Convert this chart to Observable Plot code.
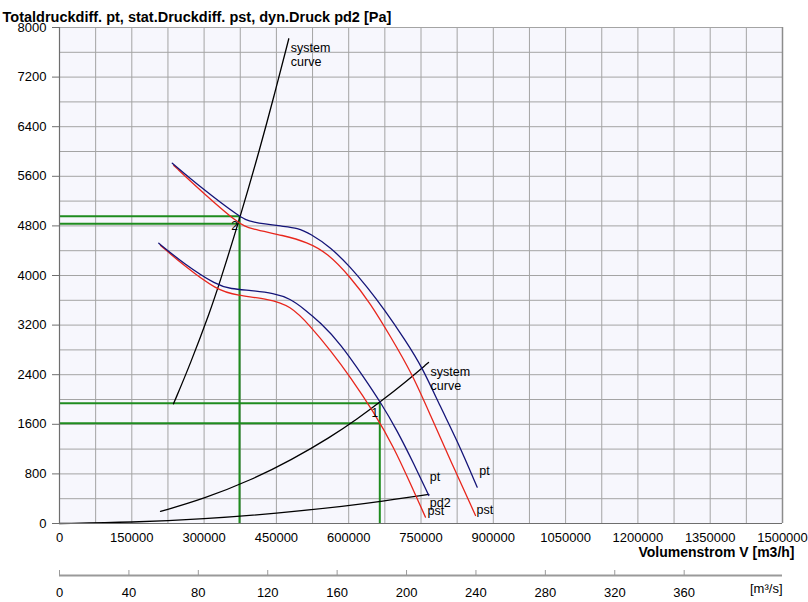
<!DOCTYPE html>
<html><head><meta charset="utf-8">
<script src="https://cdn.jsdelivr.net/npm/d3@7"></script>
<script src="https://cdn.jsdelivr.net/npm/@observablehq/plot@0.6"></script>
<style>
body{margin:0;background:#fff;font-family:"Liberation Sans",Arial,sans-serif}
</style></head>
<body><div id="chart"></div>
<script>
// ---- tick labels ----
const yTicks = [0, 800, 1600, 2400, 3200, 4000, 4800, 5600, 6400, 7200, 8000];
const xTicks = [0, 150000, 300000, 450000, 600000, 750000, 900000, 1050000, 1200000, 1350000, 1500000];
const m3sTicks = [0, 40, 80, 120, 160, 200, 240, 280, 320, 360];

// ---- curves: volume flow [m3/h] and pressure [Pa] ----
const upperPtV  = [234000, 292500, 375500, 396300, 465400, 493200, 520700, 562200, 603700, 638400, 672800, 717800, 752500, 790500, 825100, 866600];
const upperPtP  = [5812, 5425, 4935, 4860, 4791, 4770, 4673, 4457, 4134, 3812, 3463, 2952, 2521, 1876, 1339, 586];
const upperPstV = [237100, 292500, 372000, 396300, 465400, 513900, 555400, 603700, 645200, 686700, 731700, 769700, 811200, 863100];
const upperPstP = [5775, 5371, 4830, 4754, 4645, 4537, 4366, 3973, 3549, 3016, 2415, 1742, 1016, 129];
const lowerPtV  = [206000, 257900, 327200, 354800, 396300, 444600, 479300, 506900, 541500, 583000, 631300, 666000, 700600, 735100, 766200];
const lowerPtP  = [4521, 4189, 3839, 3786, 3758, 3715, 3624, 3463, 3242, 2899, 2360, 1957, 1500, 963, 452];
const lowerPstV = [209600, 257900, 327200, 368700, 430900, 479300, 520700, 562200, 603700, 652100, 693600, 728200, 759300];
const lowerPstP = [4484, 4161, 3758, 3678, 3624, 3517, 3180, 2791, 2360, 1795, 1231, 640, 102];
const pd2V = [0, 150000, 300000, 450000, 600000, 664000, 766200];
const pd2P = [0, 18, 72, 162, 288, 353, 470];
const sys2V = [236500, 271800, 313300, 330500, 374100, 417000, 444600, 475700];
const sys2P = [1930, 2580, 3440, 3840, 4920, 6080, 6880, 7818];
const sys1V = [209600, 300000, 400000, 480000, 562200, 620000, 663900, 720000, 765600];
const sys1P = [195, 400, 710, 1020, 1392, 1700, 1952, 2295, 2597];

// ---- operating points ----
const opNames = ["2", "1"];
const opV   = [373450, 664530];
const opPt  = [4957, 1940];
const opPst = [4834, 1618];

const zipCurve = (v, p) => v.map((x, i) => ({x, y: p[i]}));
const curves = {
  upperPt: zipCurve(upperPtV, upperPtP),
  upperPst: zipCurve(upperPstV, upperPstP),
  lowerPt: zipCurve(lowerPtV, lowerPtP),
  lowerPst: zipCurve(lowerPstV, lowerPstP),
  pd2: zipCurve(pd2V, pd2P),
  sys2: zipCurve(sys2V, sys2P),
  sys1: zipCurve(sys1V, sys1P)
};
const ops = opNames.map((n, i) => ({n, x: opV[i], pt: opPt[i], pst: opPst[i]}));
const last = (c) => c[c.length - 1];

const BLUE = "#141478", RED = "#e8261c", GREEN = "#1f8c1f", GRID = "#a4a4a4";
const lineOpt = {x: "x", y: "y", strokeWidth: 1.3, curve: "basis"};

function endLabel(curve, text, opts) {
  const p = last(curve);
  return Plot.text([p], {x: "x", y: "y", text: () => text, textAnchor: "start", fontSize: 12.5, ...opts});
}

const chart = Plot.plot({
  width: 808, height: 602,
  marginLeft: 59, marginRight: 26, marginTop: 27, marginBottom: 79,
  x: {domain: [0, 1500000]},
  y: {domain: [0, 8000]},
  style: {fontFamily: '"Liberation Sans", Arial, sans-serif', fontSize: "12px", background: "white", color: "black"},
  marks: [
    Plot.frame({fill: "#f7f7fd", stroke: null}),
    Plot.ruleX(d3.range(0, 1500001, 75000), {stroke: GRID, strokeWidth: 1}),
    Plot.ruleY(d3.range(0, 8001, 400), {stroke: GRID, strokeWidth: 1}),
    Plot.ruleX([1500000], {stroke: "#8c8c8c", strokeWidth: 1.5}),
    // operating point guide lines
    Plot.ruleY(ops, {y: "pt", x1: 0, x2: "x", stroke: GREEN, strokeWidth: 2}),
    Plot.ruleY(ops, {y: "pst", x1: 0, x2: "x", stroke: GREEN, strokeWidth: 2}),
    Plot.ruleX(ops, {x: "x", y1: 0, y2: "pt", stroke: GREEN, strokeWidth: 2}),
    // curves
    Plot.line(curves.pd2, {...lineOpt, stroke: "black"}),
    Plot.line(curves.sys1, {...lineOpt, stroke: "black"}),
    Plot.line(curves.sys2, {...lineOpt, stroke: "black"}),
    Plot.line(curves.upperPst, {...lineOpt, stroke: RED}),
    Plot.line(curves.upperPt, {...lineOpt, stroke: BLUE}),
    Plot.line(curves.lowerPst, {...lineOpt, stroke: RED}),
    Plot.line(curves.lowerPt, {...lineOpt, stroke: BLUE}),
    // curve labels
    endLabel(curves.upperPt, "pt", {dx: 2, dy: -16}),
    endLabel(curves.upperPst, "pst", {dx: 1, dy: -6}),
    endLabel(curves.lowerPt, "pt", {dx: 1, dy: -18}),
    endLabel(curves.pd2, "pd2", {dx: 1, dy: 9}),
    endLabel(curves.lowerPst, "pst", {dx: 2, dy: -6}),
    endLabel(curves.sys2, "system\ncurve", {dx: 2, dy: 3, lineAnchor: "top", lineHeight: 1.15}),
    endLabel(curves.sys1, "system\ncurve", {dx: 2, dy: 3, lineAnchor: "top", lineHeight: 1.15}),
    Plot.text(ops, {x: "x", y: "pt", text: "n", dx: -5, dy: 10, fontSize: 12}),
    // axes
    Plot.ruleX([0], {stroke: "#6e6e6e", strokeWidth: 1.2}),
    Plot.ruleY([0], {stroke: "#6e6e6e", strokeWidth: 1.2}),
    Plot.axisY({ticks: yTicks, tickSize: 7, tickPadding: 6, fontSize: 13, label: null, tickFormat: d => String(d), stroke: "#6e6e6e"}),
    Plot.axisX({ticks: xTicks, tickSize: 0, tickPadding: 9, fontSize: 13, label: null, tickFormat: d => String(d)}),
    Plot.text(["Volumenstrom V [m3/h]"], {frameAnchor: "bottom-right", textAnchor: "end", dx: 12, dy: 33, fontSize: 14, fontWeight: "bold"}),
    // second axis in m3/s
    Plot.ruleY([0], {dy: 52, stroke: "#9a9a9a", strokeWidth: 2}),
    Plot.axisX({ticks: m3sTicks.map(v => v * 3600), tickFormat: d => String(Math.round(d / 3600)), anchor: "bottom", dy: 52, tickSize: -5, tickPadding: 17, fontSize: 13, label: null, stroke: "#9a9a9a"}),
    Plot.text(["[m³/s]"], {frameAnchor: "bottom-right", textAnchor: "end", dy: 69, fontSize: 13}),
    // title
    Plot.text(["Totaldruckdiff. pt, stat.Druckdiff. pst, dyn.Druck pd2 [Pa]"], {frameAnchor: "top-left", textAnchor: "start", dx: -57, dy: -16, fontSize: 14.5, fontWeight: "bold"})
  ]
});
document.getElementById("chart").appendChild(chart);
</script>
</body></html>
